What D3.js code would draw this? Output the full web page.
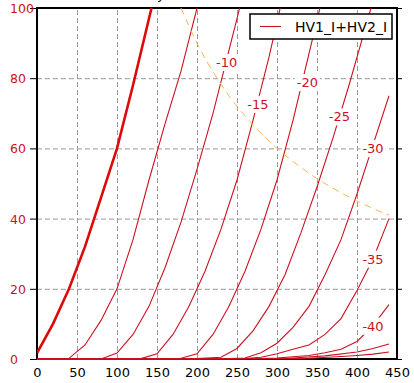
<!DOCTYPE html>
<html>
<head>
<meta charset="utf-8">
<script src="https://cdn.jsdelivr.net/npm/d3@7"></script>
<style>
  body { margin: 0; background: #fff; }
  svg { display: block; font-family: "DejaVu Sans", sans-serif; }
</style>
</head>
<body>
<svg id="chart" width="414" height="383"></svg>
<script>
/** data **/
var xTicks = [0, 50, 100, 150, 200, 250, 300, 350, 400, 450];
var yTicks = [0, 20, 40, 60, 80, 100];

// grid voltages, one polyline [V, mA] per curve
var gridVolts = [0, -5, -10, -15, -20, -25, -30, -35, -40, -45, -50];
var curve0  = [[0,1.7],[20,10],[40,20],[60,32],[80,46],[100,60],[120,78],[140,97],[160,116]];
var curve5  = [[0,0],[40,0.2],[60,4],[80,11],[100,20],[120,34],[140,51],[160,67],[180,82],[200,100],[220,118]];
var curve10 = [[0,0],[80,0],[100,1.7],[120,7],[140,15],[160,26],[180,39],[200,54],[220,70],[240,88],[260,106]];
var curve15 = [[0,0],[130,0.1],[150,1.5],[170,7],[190,15],[210,25],[230,37],[250,51],[270,68],[290,86],[310,106]];
var curve20 = [[0,0],[180,0.2],[200,1.5],[220,7],[240,15],[260,25],[280,37],[300,51],[320,68],[340,87],[360,106]];
var curve25 = [[0,0],[200,0.1],[230,0.5],[250,3],[270,8],[290,15],[310,24],[330,36],[350,49],[370,63],[390,78],[410,94],[430,110]];
var curve30 = [[0,0],[240,0.1],[260,0.3],[280,1.8],[300,4.5],[320,9],[340,15],[360,24],[380,34],[400,47],[420,61],[440,75]];
var curve35 = [[0,0],[260,0.1],[280,0.5],[300,1.5],[320,2.8],[340,4],[360,7],[380,11.5],[400,19.5],[420,28.5],[440,40]];
var curve40 = [[0,0],[280,0.1],[300,0.3],[340,1],[360,1.8],[380,2.8],[400,5],[420,9.5],[440,15.5]];
var curve45 = [[0,0],[300,0.1],[320,0.3],[360,0.9],[400,2],[420,3],[440,4.3]];
var curve50 = [[0,0],[320,0.1],[340,0.2],[380,0.7],[400,1],[420,1.4],[440,2]];

// curve labels
var labelText = ["-10", "-15", "-20", "-25", "-30", "-35", "-40"];
var labelV = [237, 276, 338, 378, 420, 420, 420];
var labelI = [84.5, 72.6, 78.8, 69, 60, 28.5, 9.4];

// max dissipation line
var pdissV = [180, 200, 225, 250, 275, 300, 325, 350, 375, 400, 425, 440];
var pdissI = [100, 90, 80, 72, 65.5, 60, 55.4, 51.4, 48, 45, 42.4, 41];

var legendName = "HV1_I+HV2_I";

/** layout **/
var svg = d3.select("#chart");
var mLeft = 37, mRight = 397, mTop = 8, mBottom = 359;
var red = "#cc1020";

var x = d3.scaleLinear().domain([0, 450]).range([mLeft, mRight]);
var y = d3.scaleLinear().domain([0, 100]).range([mBottom, mTop]);

//title, mostly above the window
svg.append("text")
	.attr("x", 222).attr("y", -1)
	.attr("text-anchor", "middle")
	.attr("font-size", "13px")
	.text("Ia by Ua and Ue (HV in mA)");

//grid
svg.append("g")
	.attr("transform", "translate(0," + mBottom + ")")
	.call(d3.axisBottom(x).tickValues(xTicks.slice(1, -1)).tickSize(-(mBottom - mTop)).tickFormat(""))
	.call(function(g) { g.select(".domain").remove(); })
	.selectAll("line")
	.attr("stroke", "#999").attr("stroke-dasharray", "5,3");

svg.append("g")
	.attr("transform", "translate(" + mLeft + ",0)")
	.call(d3.axisLeft(y).tickValues(yTicks.slice(1, -1)).tickSize(-(mRight - mLeft)).tickFormat(""))
	.call(function(g) { g.select(".domain").remove(); })
	.selectAll("line")
	.attr("stroke", "#999").attr("stroke-dasharray", "5,3");

//axes
var yAx = svg.append("g")
	.attr("transform", "translate(" + mLeft + ",0)")
	.call(d3.axisLeft(y).tickValues(yTicks).tickSize(7));
yAx.select(".domain").remove();
yAx.selectAll("line").attr("stroke", "#000");
yAx.selectAll("text")
	.attr("x", -27).attr("dy", "0.36em")
	.attr("text-anchor", "start")
	.attr("fill", red)
	.attr("font-size", "12.5px")
	.attr("font-family", "DejaVu Sans");

var rAx = svg.append("g")
	.attr("transform", "translate(" + mRight + ",0)")
	.call(d3.axisRight(y).tickValues(yTicks).tickSize(5).tickFormat(""));
rAx.select(".domain").remove();
rAx.selectAll("line").attr("stroke", "#000");

var xAx = svg.append("g")
	.attr("transform", "translate(0," + mBottom + ")")
	.call(d3.axisBottom(x).tickValues(xTicks).tickSize(0).tickPadding(9));
xAx.select(".domain").remove();
xAx.selectAll("text")
	.attr("fill", "#000")
	.attr("font-size", "13px")
	.attr("font-family", "DejaVu Sans");

svg.append("rect")
	.attr("x", mLeft).attr("y", mTop)
	.attr("width", mRight - mLeft).attr("height", mBottom - mTop)
	.attr("fill", "none").attr("stroke", "#000").attr("stroke-width", 2);

//clip
svg.append("clipPath").attr("id", "plotClip")
	.append("rect")
	.attr("x", mLeft).attr("y", mTop)
	.attr("width", mRight - mLeft).attr("height", mBottom - mTop + 1.5);

var plot = svg.append("g").attr("clip-path", "url(#plotClip)");

//curves
var curves = [curve0, curve5, curve10, curve15, curve20, curve25, curve30, curve35, curve40, curve45, curve50];
var line = d3.line()
	.x(function(d) { return x(d[0]); })
	.y(function(d) { return y(d[1]); });

plot.selectAll("path.curve")
	.data(curves)
	.enter()
	.append("path")
	.attr("class", "curve")
	.attr("d", line)
	.attr("fill", "none")
	.attr("stroke", function(d, i) { return gridVolts[i] == 0 ? "#dd0a0a" : red; })
	.attr("stroke-width", function(d, i) { return gridVolts[i] == 0 ? 2.6 : 1.1; });

//dissipation
var pdiss = pdissV.map(function(v, i) { return [v, pdissI[i]]; });
plot.append("path")
	.attr("d", d3.line().x(function(d) { return x(d[0]); }).y(function(d) { return y(d[1]); }).curve(d3.curveMonotoneX)(pdiss))
	.attr("fill", "none")
	.attr("stroke", "#f5b55a")
	.attr("stroke-width", 1)
	.attr("stroke-dasharray", "7,5");

//labels with white background
var lab = plot.selectAll("g.lab")
	.data(labelText)
	.enter()
	.append("g")
	.attr("class", "lab")
	.attr("transform", function(d, i) { return "translate(" + x(labelV[i]) + "," + y(labelI[i]) + ")"; });

lab.append("text")
	.attr("text-anchor", "middle")
	.attr("dy", "0.36em")
	.attr("font-size", "13px")
	.attr("fill", red)
	.text(function(d) { return d; });

lab.each(function() {
	var g = d3.select(this);
	var b = g.select("text").node().getBBox();
	g.insert("rect", "text")
		.attr("x", b.x - 2).attr("y", b.y - 1)
		.attr("width", b.width + 4).attr("height", b.height + 2)
		.attr("fill", "#fff");
});

//legend
var leg = svg.append("g");
leg.append("rect")
	.attr("x", 250).attr("y", 14)
	.attr("width", 142).attr("height", 25)
	.attr("fill", "#fff").attr("stroke", "#000").attr("stroke-width", 1.5);
leg.append("line")
	.attr("x1", 260).attr("x2", 281)
	.attr("y1", 26.5).attr("y2", 26.5)
	.attr("stroke", red).attr("stroke-width", 1.1);
leg.append("text")
	.attr("x", 295).attr("y", 32)
	.attr("font-size", "14px")
	.text(legendName);
</script>
</body>
</html>
